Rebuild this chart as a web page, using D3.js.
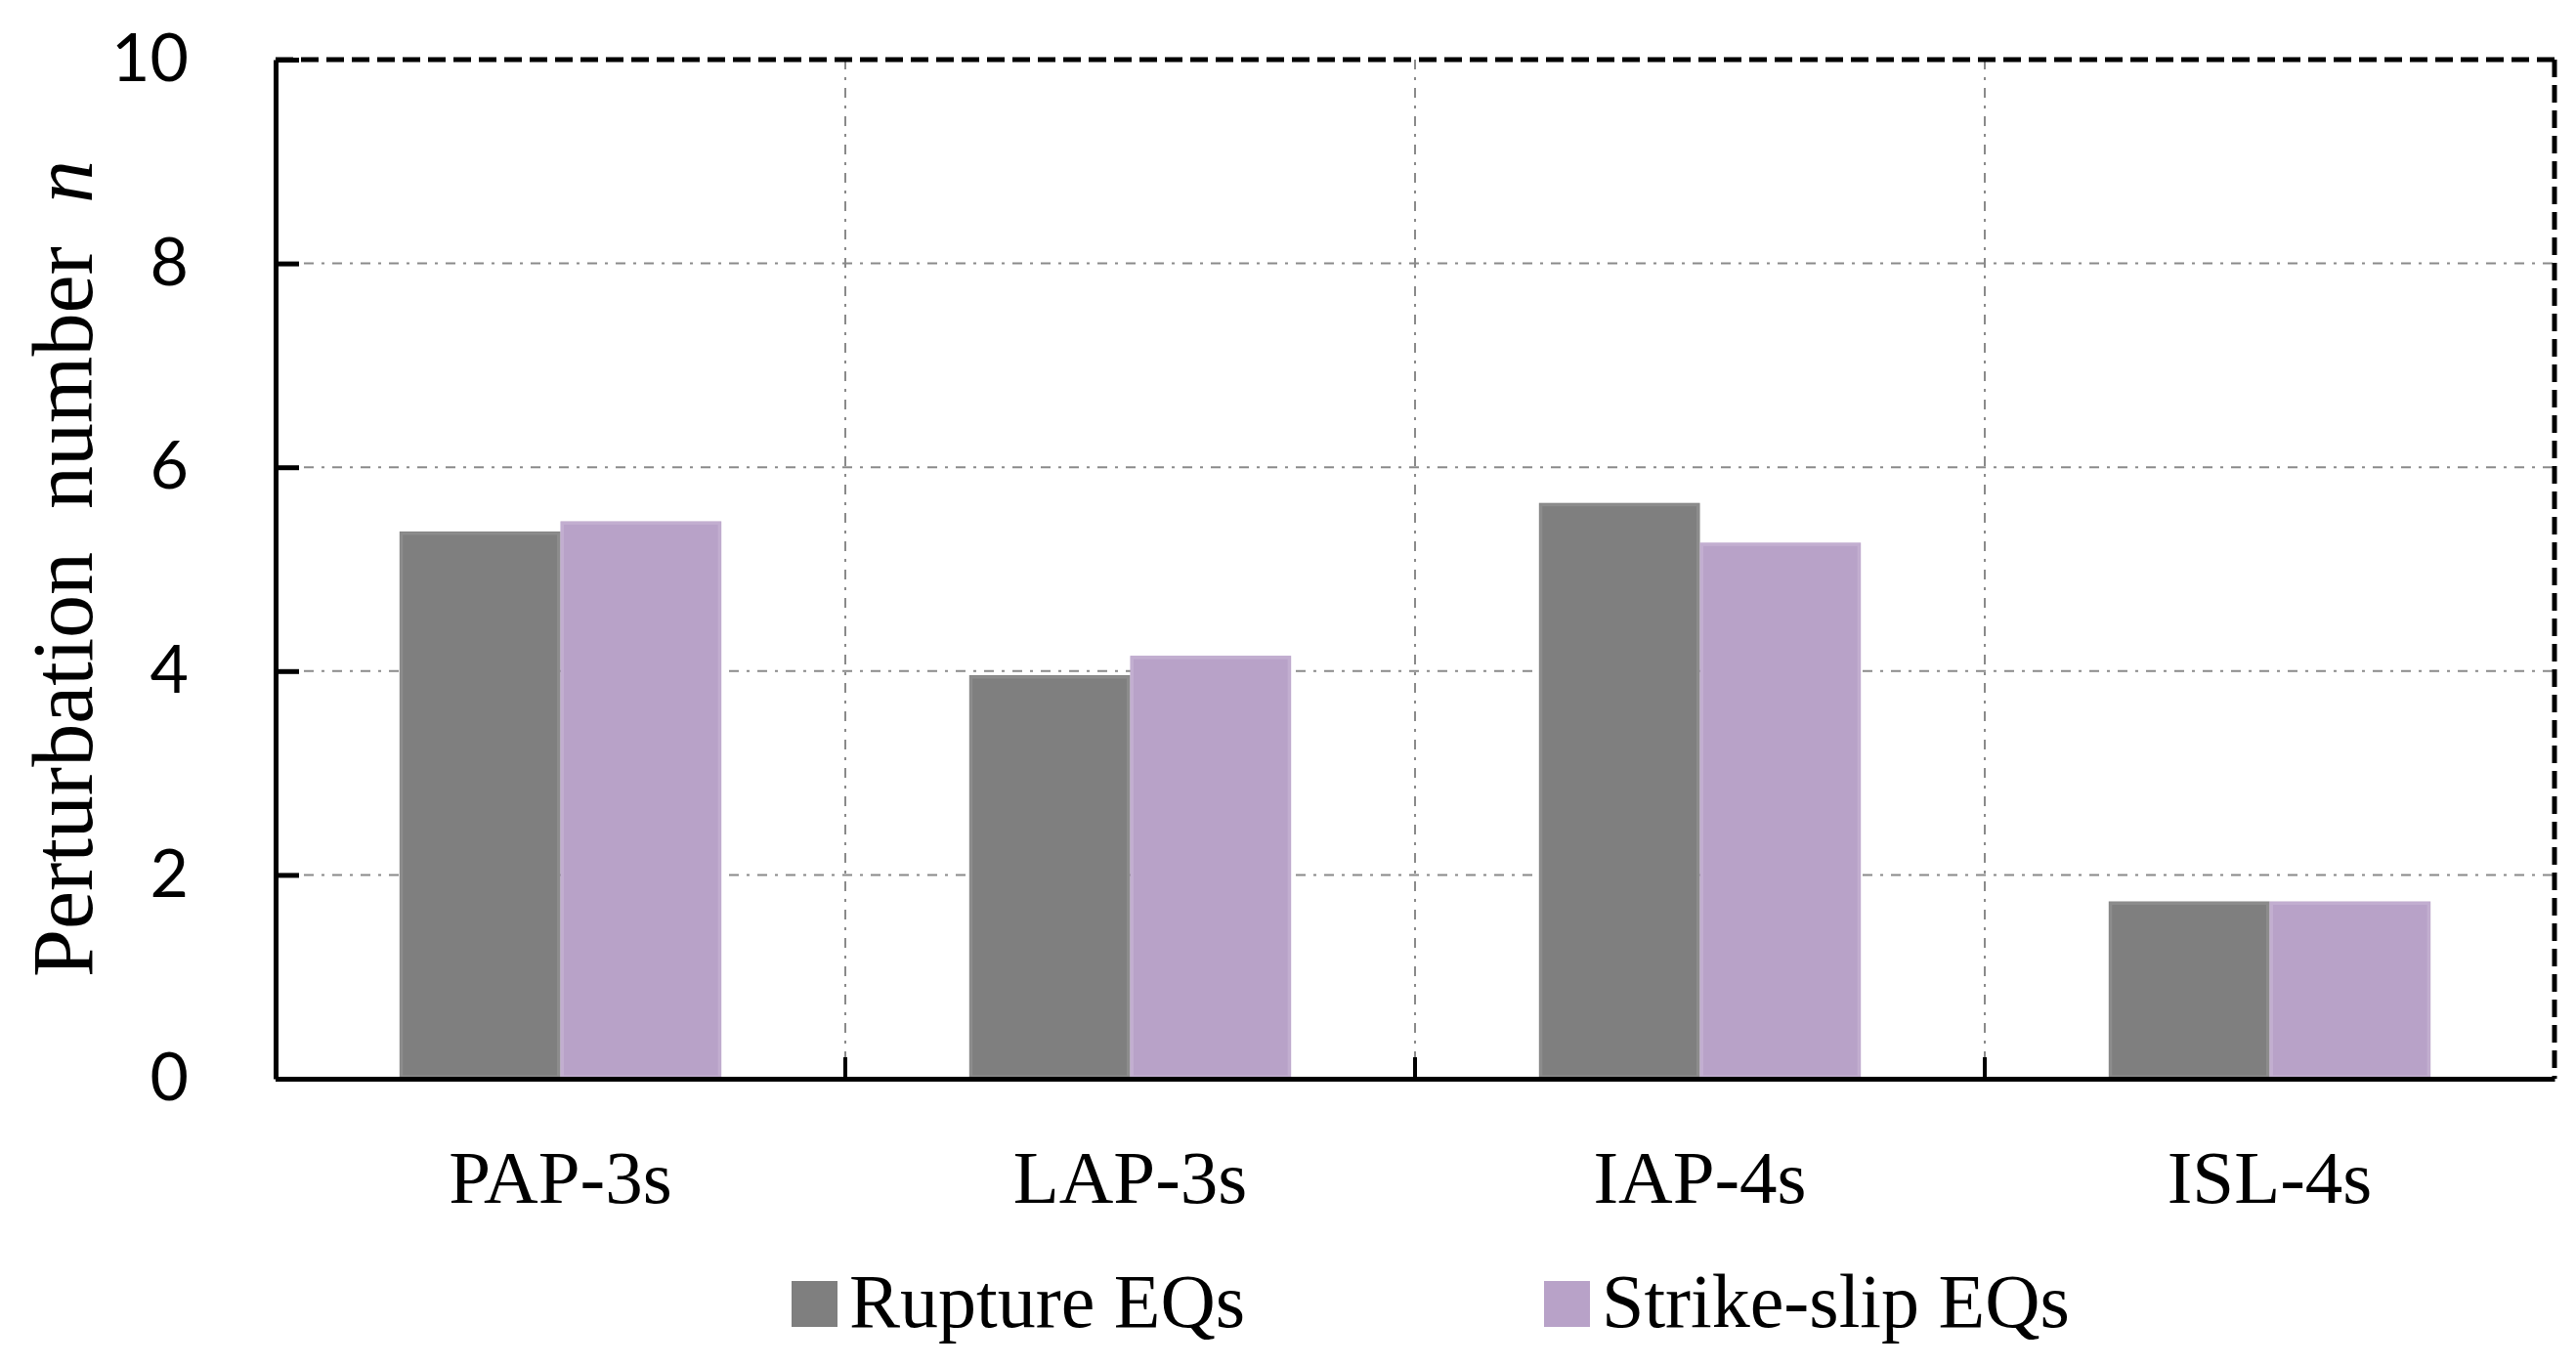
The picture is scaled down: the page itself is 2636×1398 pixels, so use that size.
<!DOCTYPE html>
<html>
<head>
<meta charset="utf-8">
<script src="https://cdn.jsdelivr.net/npm/d3@7"></script>
<style>
  body { margin: 0; background: #fff; }
  svg { display: block; }
</style>
</head>
<body>
<div id="chart"></div>
<script>
// data
let categories = ['PAP-3s', 'LAP-3s', 'IAP-4s', 'ISL-4s'];
let seriesNames = ['Rupture EQs', 'Strike-slip EQs'];
let rupture = [5.37, 3.96, 5.65, 1.74];
let strikeSlip = [5.47, 4.15, 5.26, 1.74];
let yTicks = [0, 2, 4, 6, 8, 10];

let colors = { 'Rupture EQs': '#7f7f7f', 'Strike-slip EQs': '#b8a2c8' };
let edge = { 'Rupture EQs': '#8c8c8c', 'Strike-slip EQs': '#c2aed0' };

let W = 2636, H = 1398;
let margin = { top: 61, right: 22, bottom: 294, left: 282 };
let width = W - margin.left - margin.right;
let height = H - margin.top - margin.bottom;

let svg = d3.select('#chart').append('svg')
    .attr('width', W)
    .attr('height', H);

let g = svg.append('g')
    .attr('transform', 'translate(' + margin.left + ',' + margin.top + ')');

let x0 = d3.scaleBand().domain(categories).range([0, width]).padding(0);
let x1 = d3.scaleBand().domain(seriesNames).range([0, x0.bandwidth()])
    .paddingInner(0).paddingOuter(0.77);
let y = d3.scaleLinear().domain([0, 10]).range([height, 0]);

let rows = categories.map(function(c, i) {
    return { cat: c, values: [
        { name: seriesNames[0], v: rupture[i] },
        { name: seriesNames[1], v: strikeSlip[i] }
    ] };
});

// horizontal grid (dash-dot)
g.append('g').selectAll('line')
    .data(yTicks.filter(function(t) { return t > 0 && t < 10; }))
    .enter().append('line')
    .attr('x1', 0).attr('x2', width)
    .attr('y1', function(d) { return y(d); })
    .attr('y2', function(d) { return y(d); })
    .attr('stroke', '#8a8a8a')
    .attr('stroke-width', 2)
    .attr('stroke-dasharray', '10,8,3,8');

// vertical grid between categories
let bounds = categories.slice(1).map(function(c) { return x0(c); });
g.append('g').selectAll('line')
    .data(bounds)
    .enter().append('line')
    .attr('x1', function(d) { return d; })
    .attr('x2', function(d) { return d; })
    .attr('y1', 0).attr('y2', height)
    .attr('stroke', '#8a8a8a')
    .attr('stroke-width', 2)
    .attr('stroke-dasharray', '10,8,3,8');

// bars
let grp = g.selectAll('.grp')
    .data(rows)
    .enter().append('g')
    .attr('class', 'grp')
    .attr('transform', function(d) { return 'translate(' + x0(d.cat) + ',0)'; });

grp.selectAll('rect.bar')
    .data(function(d) { return d.values; })
    .enter().append('rect')
    .attr('class', 'bar')
    .attr('x', function(d) { return x1(d.name); })
    .attr('y', function(d) { return y(d.v); })
    .attr('width', x1.bandwidth())
    .attr('height', function(d) { return height - y(d.v); })
    .attr('fill', function(d) { return colors[d.name]; });

// soft lighter rim like the original
grp.selectAll('rect.rim')
    .data(function(d) { return d.values; })
    .enter().append('rect')
    .attr('class', 'rim')
    .attr('x', function(d) { return x1(d.name) + 2; })
    .attr('y', function(d) { return y(d.v) + 2; })
    .attr('width', x1.bandwidth() - 4)
    .attr('height', function(d) { return height - y(d.v) - 4; })
    .attr('fill', 'none')
    .attr('stroke', function(d) { return edge[d.name]; })
    .attr('stroke-width', 3);

// top and right frame (thick dashed)
g.append('line')
    .attr('x1', 0).attr('x2', width).attr('y1', 0).attr('y2', 0)
    .attr('stroke', '#000').attr('stroke-width', 5)
    .attr('stroke-dasharray', '18,8');
g.append('line')
    .attr('x1', width).attr('x2', width).attr('y1', 0).attr('y2', height)
    .attr('stroke', '#000').attr('stroke-width', 5)
    .attr('stroke-dasharray', '18,8');

// y axis
let yAxis = d3.axisLeft(y)
    .tickValues(yTicks)
    .tickSizeInner(-24)
    .tickSizeOuter(0)
    .tickPadding(89);

let ya = g.append('g').call(yAxis);
ya.select('.domain').attr('stroke', '#000').attr('stroke-width', 5);
ya.selectAll('.tick line').attr('stroke', '#000').attr('stroke-width', 5);
ya.selectAll('.tick text')
    .attr('font-family', 'Lato, "Open Sans", sans-serif')
    .attr('font-size', 68)
    .attr('fill', '#000');

// x axis
let xa = g.append('g')
    .attr('transform', 'translate(0,' + height + ')')
    .call(d3.axisBottom(x0).tickSize(0).tickPadding(72));
xa.select('.domain').attr('stroke', '#000').attr('stroke-width', 5);
xa.selectAll('.tick text')
    .attr('font-family', '"Liberation Serif", "Times New Roman", serif')
    .attr('font-size', 77)
    .attr('fill', '#000');

// x ticks at category boundaries, pointing up
g.append('g').selectAll('line')
    .data(bounds)
    .enter().append('line')
    .attr('x1', function(d) { return d; })
    .attr('x2', function(d) { return d; })
    .attr('y1', height).attr('y2', height - 22)
    .attr('stroke', '#000')
    .attr('stroke-width', 4);

// y label
let yl = svg.append('text')
    .attr('transform', 'translate(94,582) rotate(-90)')
    .attr('text-anchor', 'middle')
    .attr('font-family', '"Liberation Serif", "Times New Roman", serif')
    .attr('font-size', 88)
    .attr('fill', '#000')
    .attr('xml:space', 'preserve');
yl.append('tspan').text('Perturbation  number  ');
yl.append('tspan').attr('font-style', 'italic').text('n');

// legend
let legendX = [810, 1580];
let leg = svg.append('g').selectAll('g')
    .data(seriesNames)
    .enter().append('g')
    .attr('transform', function(d, i) { return 'translate(' + legendX[i] + ',1311)'; });
leg.append('rect')
    .attr('width', 47).attr('height', 47)
    .attr('fill', function(d) { return colors[d]; });
leg.append('text')
    .attr('x', 59).attr('y', 47)
    .attr('font-family', '"Liberation Serif", "Times New Roman", serif')
    .attr('font-size', 78)
    .attr('fill', '#000')
    .text(function(d) { return d; });
</script>
</body>
</html>
